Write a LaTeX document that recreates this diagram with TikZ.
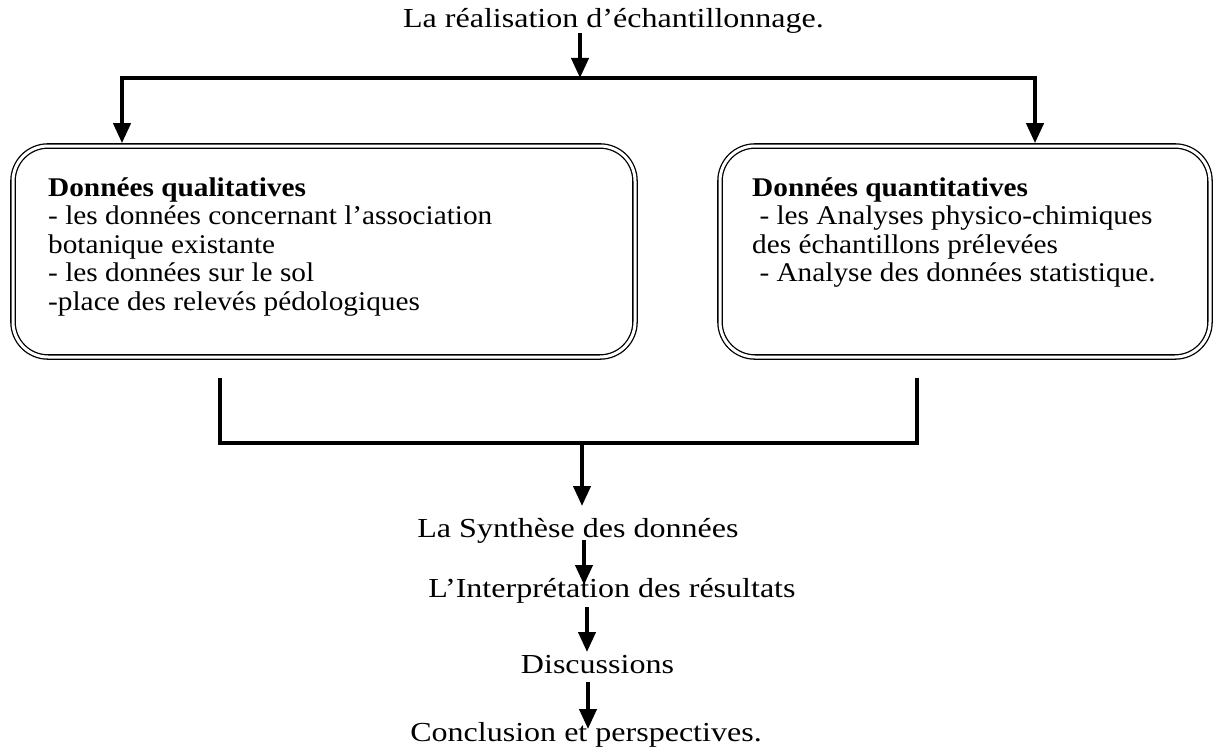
\documentclass[tikz,border=0pt]{standalone}
\usepackage{fontspec}
\setmainfont{Liberation Serif}[FakeStretch=1.165]
\newfontfamily\boxfont{Liberation Serif}[FakeStretch=1.085]
\usetikzlibrary{arrows.meta}
\begin{document}
\begin{tikzpicture}[x=1pt,y=-1pt,
  conn/.style={line width=4pt},
  arr/.style={line width=4pt,-{Triangle[length=20pt,width=17pt]}},
  box/.style={draw, rounded corners=35pt, double, double distance=3pt, line width=1.3pt, outer sep=2.8pt},
  lbl/.style={font=\fontsize{27.5}{28.5}\selectfont, inner sep=0pt, anchor=base},
  boxtxt/.style={font=\boxfont\fontsize{27}{28.5}\selectfont, inner sep=0pt, anchor=north west, align=left}]
\useasboundingbox (0,0) rectangle (1216,752);

% title
\node[lbl] (title) at (613.5,28) {La réalisation d’échantillonnage.};
\coordinate (ta) at (580,33);
\coordinate (j1) at (580,78);
\draw[arr] (ta) -- (j1);

% top distribution line
\coordinate (hl) at (120,78);
\coordinate (hr) at (1037,78);
\draw[conn] (hl) -- (hr);

% boxes
\node[box, minimum width=622pt, minimum height=211pt] (L) at (324,251.5) {};
\node[box, minimum width=490pt, minimum height=211pt] (R) at (965,251.5) {};

\coordinate (la) at (122,78);
\coordinate (ra) at (1035,78);
\draw[arr] (la) -- (la |- L.north);
\draw[arr] (ra) -- (ra |- R.north);

\node[boxtxt] (Lt) at (48,177.4) {\textbf{Données qualitatives}\\
- les données concernant l’association\\
botanique existante\\
- les données sur le sol\\
-place des relevés pédologiques};

\node[boxtxt] (Rt) at (752,177.4) {\textbf{Données quantitatives}\\
\ - les Analyses physico-chimiques\\
des échantillons prélevées\\
\ - Analyse des données statistique.};

% bottom bracket
\coordinate (b1) at (220,378);
\coordinate (b2) at (220,443);
\coordinate (b3) at (917,443);
\coordinate (b4) at (917,378);
\draw[conn] (b1) -- (b2) -- (b3) -- (b4);

% chain
\node[lbl] (syn) at (578,537) {La Synthèse des données};
\node[lbl] (int) at (612,597) {L’Interprétation des résultats};
\node[lbl] (dis) at (597.5,673) {Discussions};
\node[lbl] (con) at (586,741) {Conclusion et perspectives.};

\coordinate (a0) at (582,443);
\coordinate (a0e) at (582,506);
\draw[arr] (a0) -- (a0e);
\coordinate (a1) at (584,540);
\coordinate (a1e) at (584,585);
\draw[arr] (a1) -- (a1e);
\coordinate (a2) at (587,607);
\coordinate (a2e) at (587,652);
\draw[arr] (a2) -- (a2e);
\coordinate (a3) at (588,682);
\coordinate (a3e) at (588,729);
\draw[arr] (a3) -- (a3e);
\end{tikzpicture}
\end{document}
